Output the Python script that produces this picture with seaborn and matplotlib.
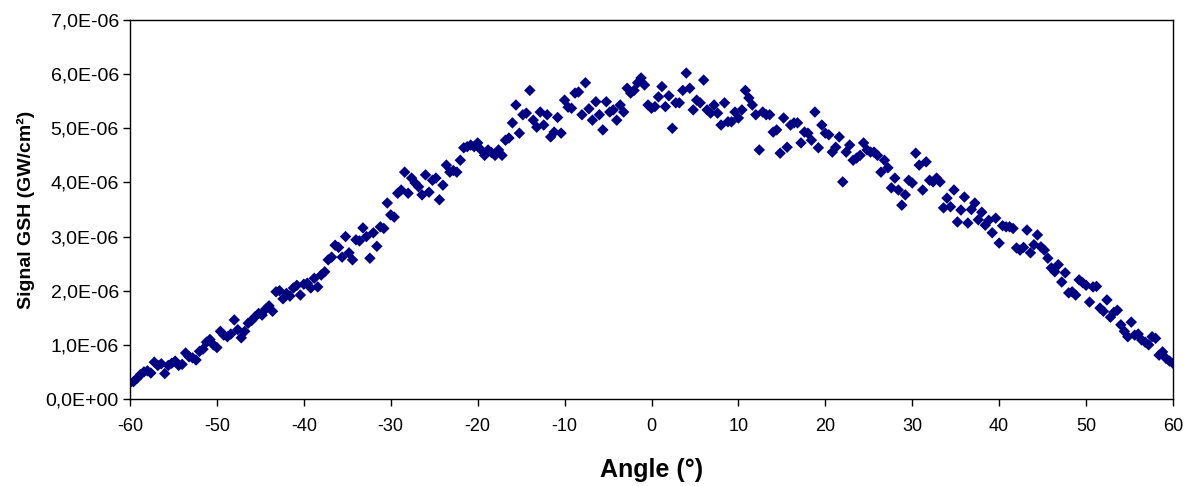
import numpy as np
import pandas as pd
import matplotlib
matplotlib.use("Agg")
import matplotlib.pyplot as plt
import seaborn as sns

# Angle grid (degrees), 0.4 deg sampling from -60 to 60
angle_start = -60.0
angle_step = 0.4

# Signal values in units of 1e-6 GW/cm², per 10-degree block
sig_m60 = [0.30, 0.32, 0.38, 0.45, 0.50, 0.52, 0.48, 0.68, 0.62, 0.65, 0.47, 0.62, 0.66,
           0.70, 0.62, 0.64, 0.85, 0.78, 0.76, 0.72, 0.88, 0.92, 1.05, 1.10, 1.00]
sig_m50 = [0.95, 1.25, 1.18, 1.15, 1.20, 1.46, 1.28, 1.13, 1.25, 1.40, 1.45, 1.52, 1.58,
           1.55, 1.66, 1.72, 1.62, 1.98, 2.00, 1.85, 1.95, 1.90, 2.05, 2.10, 1.92]
sig_m40 = [2.12, 2.14, 2.05, 2.23, 2.07, 2.29, 2.35, 2.57, 2.62, 2.84, 2.80, 2.62, 3.00,
           2.70, 2.57, 2.94, 2.92, 3.16, 3.00, 2.60, 3.07, 2.82, 3.18, 3.15, 3.62]
sig_m30 = [3.40, 3.36, 3.80, 3.86, 4.19, 3.80, 4.08, 3.99, 3.92, 3.77, 4.14, 3.82, 4.04,
           4.08, 3.68, 3.95, 4.32, 4.19, 4.22, 4.19, 4.41, 4.64, 4.66, 4.69, 4.66]
sig_m20 = [4.73, 4.60, 4.50, 4.60, 4.55, 4.50, 4.60, 4.50, 4.78, 4.82, 5.10, 5.43, 4.91,
           5.25, 5.28, 5.70, 5.15, 5.02, 5.30, 5.06, 5.25, 4.84, 4.93, 5.20, 4.91]
sig_m10 = [5.52, 5.39, 5.37, 5.65, 5.67, 5.25, 5.84, 5.36, 5.15, 5.49, 5.25, 4.97, 5.49,
           5.30, 5.34, 5.15, 5.43, 5.30, 5.74, 5.65, 5.70, 5.84, 5.93, 5.80, 5.43]
sig_p00 = [5.37, 5.40, 5.58, 5.77, 5.40, 5.60, 5.00, 5.47, 5.47, 5.70, 6.02, 5.74, 5.34,
           5.52, 5.47, 5.89, 5.34, 5.28, 5.43, 5.28, 5.06, 5.47, 5.12, 5.12, 5.30]
sig_p10 = [5.19, 5.34, 5.70, 5.56, 5.43, 5.25, 4.60, 5.30, 5.25, 5.25, 4.93, 4.97, 4.54,
           5.19, 4.65, 5.06, 5.10, 5.10, 4.73, 4.93, 4.91, 4.78, 5.30, 4.64, 5.06]
sig_p20 = [4.91, 4.88, 4.56, 4.65, 4.84, 4.01, 4.56, 4.69, 4.41, 4.45, 4.50, 4.73, 4.60,
           4.56, 4.56, 4.50, 4.19, 4.41, 4.27, 3.90, 4.08, 3.86, 3.58, 3.77, 4.04]
sig_p30 = [3.99, 4.54, 4.32, 3.86, 4.38, 4.04, 4.01, 4.08, 4.01, 3.53, 3.71, 3.55, 3.86,
           3.27, 3.49, 3.73, 3.25, 3.50, 3.62, 3.31, 3.45, 3.21, 3.30, 3.07, 3.34]
sig_p40 = [2.88, 3.20, 3.18, 3.18, 3.15, 2.79, 2.75, 2.80, 3.12, 2.70, 2.85, 3.03, 2.81,
           2.75, 2.60, 2.42, 2.35, 2.48, 2.16, 2.33, 1.96, 1.98, 1.92, 2.20, 2.15]
sig_p50 = [2.10, 1.79, 2.07, 2.08, 1.68, 1.62, 1.83, 1.51, 1.60, 1.64, 1.37, 1.25, 1.15,
           1.42, 1.18, 1.20, 1.09, 1.05, 1.00, 1.15, 1.12, 0.81, 0.87, 0.75, 0.70, 0.66]

signal_e6 = (sig_m60 + sig_m50 + sig_m40 + sig_m30 + sig_m20 + sig_m10 +
             sig_p00 + sig_p10 + sig_p20 + sig_p30 + sig_p40 + sig_p50)
angles = np.round(angle_start + angle_step * np.arange(len(signal_e6)), 1)

df = pd.DataFrame({"Angle": angles, "Signal": np.array(signal_e6) * 1e-6})

x_ticks = [-60, -50, -40, -30, -20, -10, 0, 10, 20, 30, 40, 50, 60]
y_ticks = [0, 1e-6, 2e-6, 3e-6, 4e-6, 5e-6, 6e-6, 7e-6]
y_tick_labels = ["0,0E+00", "1,0E-06", "2,0E-06", "3,0E-06", "4,0E-06",
                 "5,0E-06", "6,0E-06", "7,0E-06"]

sns.set_theme(style="white")
plt.rcParams["font.family"] = ["Liberation Sans", "DejaVu Sans"]

fig = plt.figure(figsize=(11.92, 4.86), dpi=100)
ax = fig.add_axes([130 / 1192, 1 - 399 / 486, (1173 - 130) / 1192, (399 - 20) / 486])

sns.scatterplot(data=df, x="Angle", y="Signal", ax=ax, marker="D", s=34,
                color="#000080", edgecolor="none", linewidth=0, legend=False)

ax.set_xlim(-60, 60)
ax.set_ylim(0, 7e-6)
ax.set_xticks(x_ticks)
ax.set_xticklabels([str(t) for t in x_ticks])
ax.set_yticks(y_ticks)
ax.set_yticklabels(y_tick_labels)

for sp in ax.spines.values():
    sp.set_visible(True)
    sp.set_color("black")
    sp.set_linewidth(1.0)

ax.tick_params(axis="both", direction="out", length=5, width=1, color="black",
               labelcolor="black", bottom=True, left=True)
ax.tick_params(axis="x", labelsize=13, pad=9)
ax.tick_params(axis="y", labelsize=14, pad=3)

ax.set_xlabel("Angle (°)", fontsize=18, fontweight="bold", color="black", labelpad=16)
ax.set_ylabel("Signal GSH (GW/cm²)", fontsize=14, fontweight="bold", color="black", labelpad=8)

fig.savefig("out.png", dpi=100, facecolor="white")
